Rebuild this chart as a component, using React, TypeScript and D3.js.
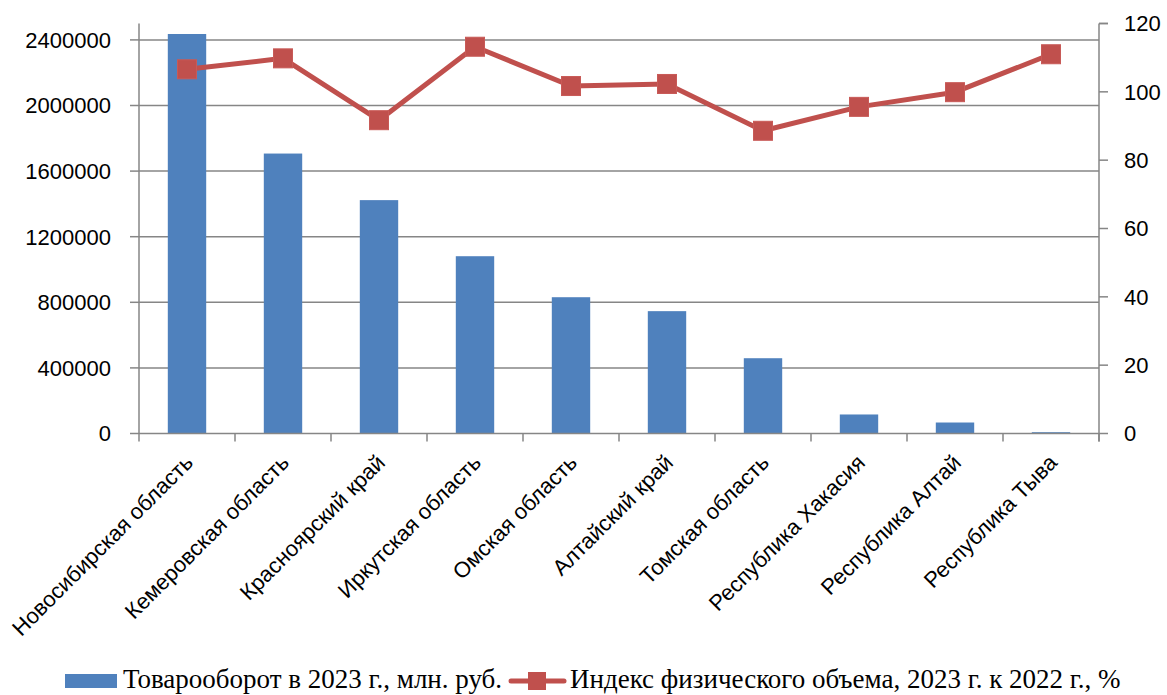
import React, { useRef, useEffect } from 'react';
import * as d3 from 'd3';

const regions = [
  'Новосибирская область',
  'Кемеровская область',
  'Красноярский край',
  'Иркутская область',
  'Омская область',
  'Алтайский край',
  'Томская область',
  'Республика Хакасия',
  'Республика Алтай',
  'Республика Тыва'
];

// Товарооборот в 2023 г., млн. руб.
const turnover = [2436000, 1707000, 1423000, 1081000, 831000, 746000, 459000, 116000, 67000, 8000];

// Индекс физического объема, 2023 г. к 2022 г., %
const volumeIndex = [106.6, 109.8, 91.7, 113.2, 101.7, 102.3, 88.6, 95.6, 99.9, 111.0];

const leftTicks = [0, 400000, 800000, 1200000, 1600000, 2000000, 2400000];
const rightTicks = [0, 20, 40, 60, 80, 100, 120];

const barLabel = 'Товарооборот в 2023 г., млн. руб.';
const lineLabel = 'Индекс физического объема, 2023 г. к 2022 г., %';

const W = 1167;
const H = 695;
const BAR = '#4F81BD';
const LINE = '#C0504D';
const GRID = '#868686';
const SANS = '"Liberation Sans", Arial, sans-serif';
const SERIF = '"Liberation Serif", "Times New Roman", serif';

export default function App() {
  const svgRef = useRef<SVGSVGElement>(null);

  useEffect(() => {
    const svg = d3.select(svgRef.current);
    svg.selectAll('*').remove();

    const left = 139;
    const right = 1099;
    const top = 23.5;
    const bottom = 433.5;

    const x = d3.scaleBand()
      .domain(regions)
      .range([left, right])
      .paddingInner(0.6)
      .paddingOuter(0.3);

    const yLeft = d3.scaleLinear().domain([0, 2500000]).range([bottom, top]);
    const yRight = d3.scaleLinear().domain([0, 120]).range([bottom, top]);

    const g = svg.append('g');

    // gridlines
    g.selectAll('.grid')
      .data(leftTicks.slice(1))
      .enter()
      .append('line')
      .attr('x1', left)
      .attr('x2', right)
      .attr('y1', d => yLeft(d))
      .attr('y2', d => yLeft(d))
      .attr('stroke', GRID)
      .attr('stroke-width', 1.5);

    // bars
    g.selectAll('.bar')
      .data(turnover)
      .enter()
      .append('rect')
      .attr('x', (d, i) => x(regions[i]) || 0)
      .attr('y', d => yLeft(d))
      .attr('width', x.bandwidth())
      .attr('height', d => bottom - yLeft(d))
      .attr('fill', BAR);

    // axes lines
    const axisColor = GRID;
    g.append('line').attr('x1', left).attr('x2', left).attr('y1', top).attr('y2', bottom)
      .attr('stroke', axisColor).attr('stroke-width', 1.5);
    g.append('line').attr('x1', right).attr('x2', right).attr('y1', top).attr('y2', bottom + 8)
      .attr('stroke', axisColor).attr('stroke-width', 1.5);
    g.append('line').attr('x1', left).attr('x2', right).attr('y1', bottom).attr('y2', bottom)
      .attr('stroke', axisColor).attr('stroke-width', 1.5);

    // left ticks + labels
    leftTicks.forEach(t => {
      g.append('line').attr('x1', left - 9).attr('x2', left).attr('y1', yLeft(t)).attr('y2', yLeft(t))
        .attr('stroke', axisColor).attr('stroke-width', 1.5);
      g.append('text')
        .attr('x', 111)
        .attr('y', yLeft(t))
        .attr('dy', '0.36em')
        .attr('text-anchor', 'end')
        .style('font-family', SANS)
        .style('font-size', '22px')
        .attr('fill', '#000')
        .text(String(t));
    });

    // right ticks + labels
    g.append('line').attr('x1', right).attr('x2', right + 9).attr('y1', top).attr('y2', top)
      .attr('stroke', axisColor).attr('stroke-width', 1.5);
    rightTicks.forEach(t => {
      g.append('line').attr('x1', right).attr('x2', right + 9).attr('y1', yRight(t)).attr('y2', yRight(t))
        .attr('stroke', axisColor).attr('stroke-width', 1.5);
      g.append('text')
        .attr('x', 1124)
        .attr('y', yRight(t))
        .attr('dy', '0.36em')
        .attr('text-anchor', 'start')
        .style('font-family', SANS)
        .style('font-size', '22px')
        .attr('fill', '#000')
        .text(String(t));
    });

    // category boundary ticks
    const step = x.step();
    d3.range(regions.length + 1).forEach(i => {
      const xx = left + i * step;
      g.append('line').attr('x1', xx).attr('x2', xx).attr('y1', bottom).attr('y2', bottom + 8)
        .attr('stroke', axisColor).attr('stroke-width', 1.5);
    });

    // category labels
    regions.forEach(r => {
      const cx = (x(r) || 0) + x.bandwidth() / 2;
      g.append('text')
        .attr('transform', `translate(${cx + 2},${bottom + 25}) rotate(-45)`)
        .attr('text-anchor', 'end')
        .attr('dy', '0.35em')
        .style('font-family', SANS)
        .style('font-size', '22px')
        .attr('fill', '#000')
        .text(r);
    });

    // line series
    const line = d3.line<number>()
      .x((d, i) => (x(regions[i]) || 0) + x.bandwidth() / 2)
      .y(d => yRight(d));

    g.append('path')
      .datum(volumeIndex)
      .attr('d', line)
      .attr('fill', 'none')
      .attr('stroke', LINE)
      .attr('stroke-width', 5)
      .attr('stroke-linejoin', 'round');

    const ms = 19;
    g.selectAll('.marker')
      .data(volumeIndex)
      .enter()
      .append('rect')
      .attr('x', (d, i) => (x(regions[i]) || 0) + x.bandwidth() / 2 - ms / 2)
      .attr('y', d => yRight(d) - ms / 2)
      .attr('width', ms)
      .attr('height', ms)
      .attr('fill', LINE)
      .attr('stroke', '#c85a57')
      .attr('stroke-width', 1);

    // legend
    const ly = 681;
    const legend = svg.append('g');
    legend.append('rect')
      .attr('x', 65).attr('y', ly - 7).attr('width', 52).attr('height', 14)
      .attr('fill', BAR);
    legend.append('text')
      .attr('x', 123).attr('y', ly + 7)
      .style('font-family', SERIF)
      .style('font-size', '27px')
      .attr('fill', '#000')
      .text(barLabel);
    legend.append('line')
      .attr('x1', 511).attr('x2', 564).attr('y1', ly).attr('y2', ly)
      .attr('stroke', LINE).attr('stroke-width', 5).attr('stroke-linecap', 'round');
    legend.append('rect')
      .attr('x', 537 - 9).attr('y', ly - 9).attr('width', 18).attr('height', 18)
      .attr('fill', LINE);
    legend.append('text')
      .attr('x', 570).attr('y', ly + 7)
      .style('font-family', SERIF)
      .style('font-size', '27px')
      .attr('fill', '#000')
      .text(lineLabel);
  }, []);

  return (
    <div style={{ position: 'absolute', left: 0, top: 0, width: W, height: H, background: '#fff' }}>
      <svg ref={svgRef} width={W} height={H} />
    </div>
  );
}
